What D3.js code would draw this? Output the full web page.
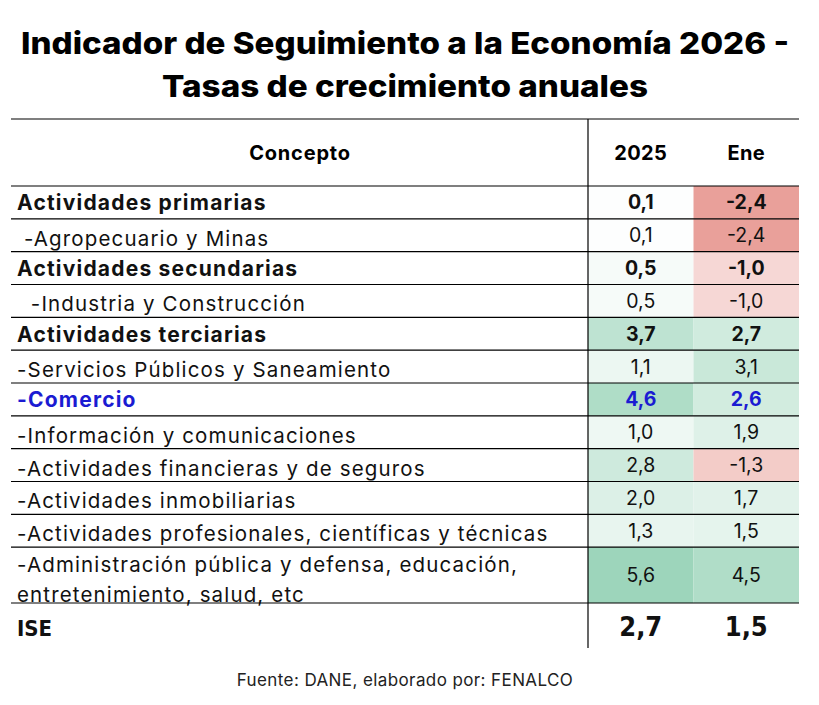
<!DOCTYPE html>
<html>
<head>
<meta charset="utf-8">
<script src="https://cdn.jsdelivr.net/npm/d3@7"></script>
<style>
  html, body { margin: 0; padding: 0; background: #fff; }
  svg { display: block; }
</style>
</head>
<body>
<svg id="chart" width="819" height="705"></svg>
<script>
const titleLines = ["Indicador de Seguimiento a la Economía 2026 -", "Tasas de crecimiento anuales"]
const columns = ["Concepto", "2025", "Ene"]
const labels = [
  ["Actividades primarias"],
  [" -Agropecuario y Minas"],
  ["Actividades secundarias"],
  ["  -Industria y Construcción"],
  ["Actividades terciarias"],
  ["-Servicios Públicos y Saneamiento"],
  ["-Comercio"],
  ["-Información y comunicaciones"],
  ["-Actividades financieras y de seguros"],
  ["-Actividades inmobiliarias"],
  ["-Actividades profesionales, científicas y técnicas"],
  ["-Administración pública y defensa, educación,", "entretenimiento, salud, etc"],
  ["ISE"],
]
// row kind: "group" = bold aggregate, "sub" = detail, "focus" = highlighted, "total" = ISE
const kinds = ["group", "sub", "group", "sub", "group", "sub", "focus", "sub", "sub", "sub", "sub", "sub", "total"]
const values2025 = [0.1, 0.1, 0.5, 0.5, 3.7, 1.1, 4.6, 1.0, 2.8, 2.0, 1.3, 5.6, 2.7]
const valuesEne = [-2.4, -2.4, -1.0, -1.0, 2.7, 3.1, 2.6, 1.9, -1.3, 1.7, 1.5, 4.5, 1.5]
const source = "Fuente: DANE, elaborado por: FENALCO"

const FONT = "Inter, 'Noto Sans', sans-serif"
const NARROW = "'Liberation Sans Narrow', 'DejaVu Sans Condensed', Inter, sans-serif"
const BLUE = "#1b1bd2"

const fmt = (v) => v.toFixed(1).replace(".", ",")

const svg = d3.select("#chart")
const tableLeft = 11, tableRight = 799, tableTop = 119, headBottom = 186, tableBottom = 648, divider = 588

// title
const titleWidths = [768, 486]
svg.selectAll("text.title")
  .data(titleLines)
  .join("text")
  .attr("class", "title")
  .attr("x", 405)
  .attr("y", (d, i) => 54 + i * 43)
  .attr("text-anchor", "middle")
  .attr("font-family", FONT)
  .attr("font-weight", 800)
  .attr("font-size", 30)
  .attr("fill", "#000")
  .attr("textLength", (d, i) => titleWidths[i])
  .attr("lengthAdjust", "spacingAndGlyphs")
  .text((d) => d)

// rows: cumulative height units -> y
const weight = (i) => (kinds[i] === "total" ? 1.37 : labels[i].length > 1 ? 1.7 : 1)
const starts = []
let acc = 0
labels.forEach((_, i) => { starts.push(acc); acc += weight(i) })
const y = d3.scaleLinear().domain([0, acc]).range([headBottom, tableBottom])
const rows = labels.map((lines, i) => ({
  i, lines, kind: kinds[i],
  y0: y(starts[i]), y1: y(starts[i] + weight(i)),
  vals: [values2025[i], valuesEne[i]],
}))

const xCol = d3.scaleBand().domain(columns.slice(1)).range([divider, tableRight])

const color = d3.scaleLinear()
  .domain([-2.4, 0, 5.6])
  .range(["#e9a09a", "#ffffff", "#9dd5bb"])
  .clamp(true)

// cells
const cells = rows.filter((r) => r.kind !== "total").flatMap((r) =>
  r.vals.map((v, j) => ({r, v, col: columns[j + 1]})))

svg.append("g").selectAll("rect")
  .data(cells)
  .join("rect")
  .attr("x", (d) => xCol(d.col))
  .attr("y", (d) => d.r.y0)
  .attr("width", xCol.bandwidth())
  .attr("height", (d) => d.r.y1 - d.r.y0)
  .attr("fill", (d) => color(d.v))

// header
const head = svg.append("g").attr("font-family", FONT).attr("font-weight", 700).attr("font-size", 20).attr("fill", "#000")
head.append("text").attr("x", 300).attr("y", 160).attr("text-anchor", "middle").attr("letter-spacing", 0.8).text(columns[0])
head.selectAll("text.col")
  .data(columns.slice(1))
  .join("text")
  .attr("class", "col")
  .attr("x", (d) => xCol(d) + xCol.bandwidth() / 2)
  .attr("y", 160)
  .attr("text-anchor", "middle")
  .attr("letter-spacing", 0.4)
  .text((d) => d)

// labels
const labelG = svg.append("g").attr("font-family", FONT)
rows.forEach((r) => {
  const bold = r.kind !== "sub"
  const t = labelG.append("text")
    .attr("xml:space", "preserve")
    .style("white-space", "pre")
    .attr("font-weight", bold ? 700 : 400)
    .attr("font-size", bold ? 21 : 20.5)
    .attr("letter-spacing", bold ? 1.2 : 1.15)
    .attr("fill", r.kind === "focus" ? BLUE : "#111")
  if (r.kind === "total") t.attr("font-family", NARROW).attr("font-size", 22).attr("letter-spacing", 0)
  r.lines.forEach((line, k) => {
    let yy
    if (r.lines.length > 1) yy = k === 0 ? r.y0 + 25 : r.y1 - 1
    else if (r.kind === "sub") yy = r.y1 - 6
    else if (r.kind === "total") yy = (r.y0 + r.y1) / 2 + 10
    else yy = (r.y0 + r.y1) / 2 + 8
    t.append("tspan").attr("x", 17).attr("y", yy).text(line)
  })
})

// values
svg.append("g").selectAll("text")
  .data(rows.flatMap((r) => r.vals.map((v, j) => ({r, v, col: columns[j + 1]}))))
  .join("text")
  .attr("x", (d) => xCol(d.col) + xCol.bandwidth() / 2)
  .attr("y", (d) => (d.r.y0 + d.r.y1) / 2 + (d.r.kind === "total" ? 10 : 7))
  .attr("text-anchor", "middle")
  .attr("font-family", (d) => (d.r.kind === "total" ? NARROW : FONT))
  .attr("font-weight", (d) => (d.r.kind === "sub" ? 400 : 700))
  .attr("font-size", (d) => (d.r.kind === "total" ? 27 : 19.5))
  .attr("fill", (d) => (d.r.kind === "focus" ? BLUE : "#111"))
  .text((d) => fmt(d.v))

// rules
const rules = [tableTop, headBottom, ...rows.filter((r) => r.kind !== "total").map((r) => r.y1)]
svg.append("g").selectAll("line")
  .data(rules)
  .join("line")
  .attr("x1", tableLeft)
  .attr("x2", tableRight)
  .attr("y1", (d) => d)
  .attr("y2", (d) => d)
  .attr("stroke", "#000")
  .attr("stroke-width", 1.2)
svg.append("line")
  .attr("x1", divider).attr("x2", divider)
  .attr("y1", tableTop).attr("y2", tableBottom)
  .attr("stroke", "#000")
  .attr("stroke-width", 1.2)

// source
svg.append("text")
  .attr("x", 405)
  .attr("y", 686)
  .attr("text-anchor", "middle")
  .attr("font-family", FONT)
  .attr("font-size", 17)
  .attr("letter-spacing", 0.4)
  .attr("fill", "#222")
  .text(source)
</script>
</body>
</html>
